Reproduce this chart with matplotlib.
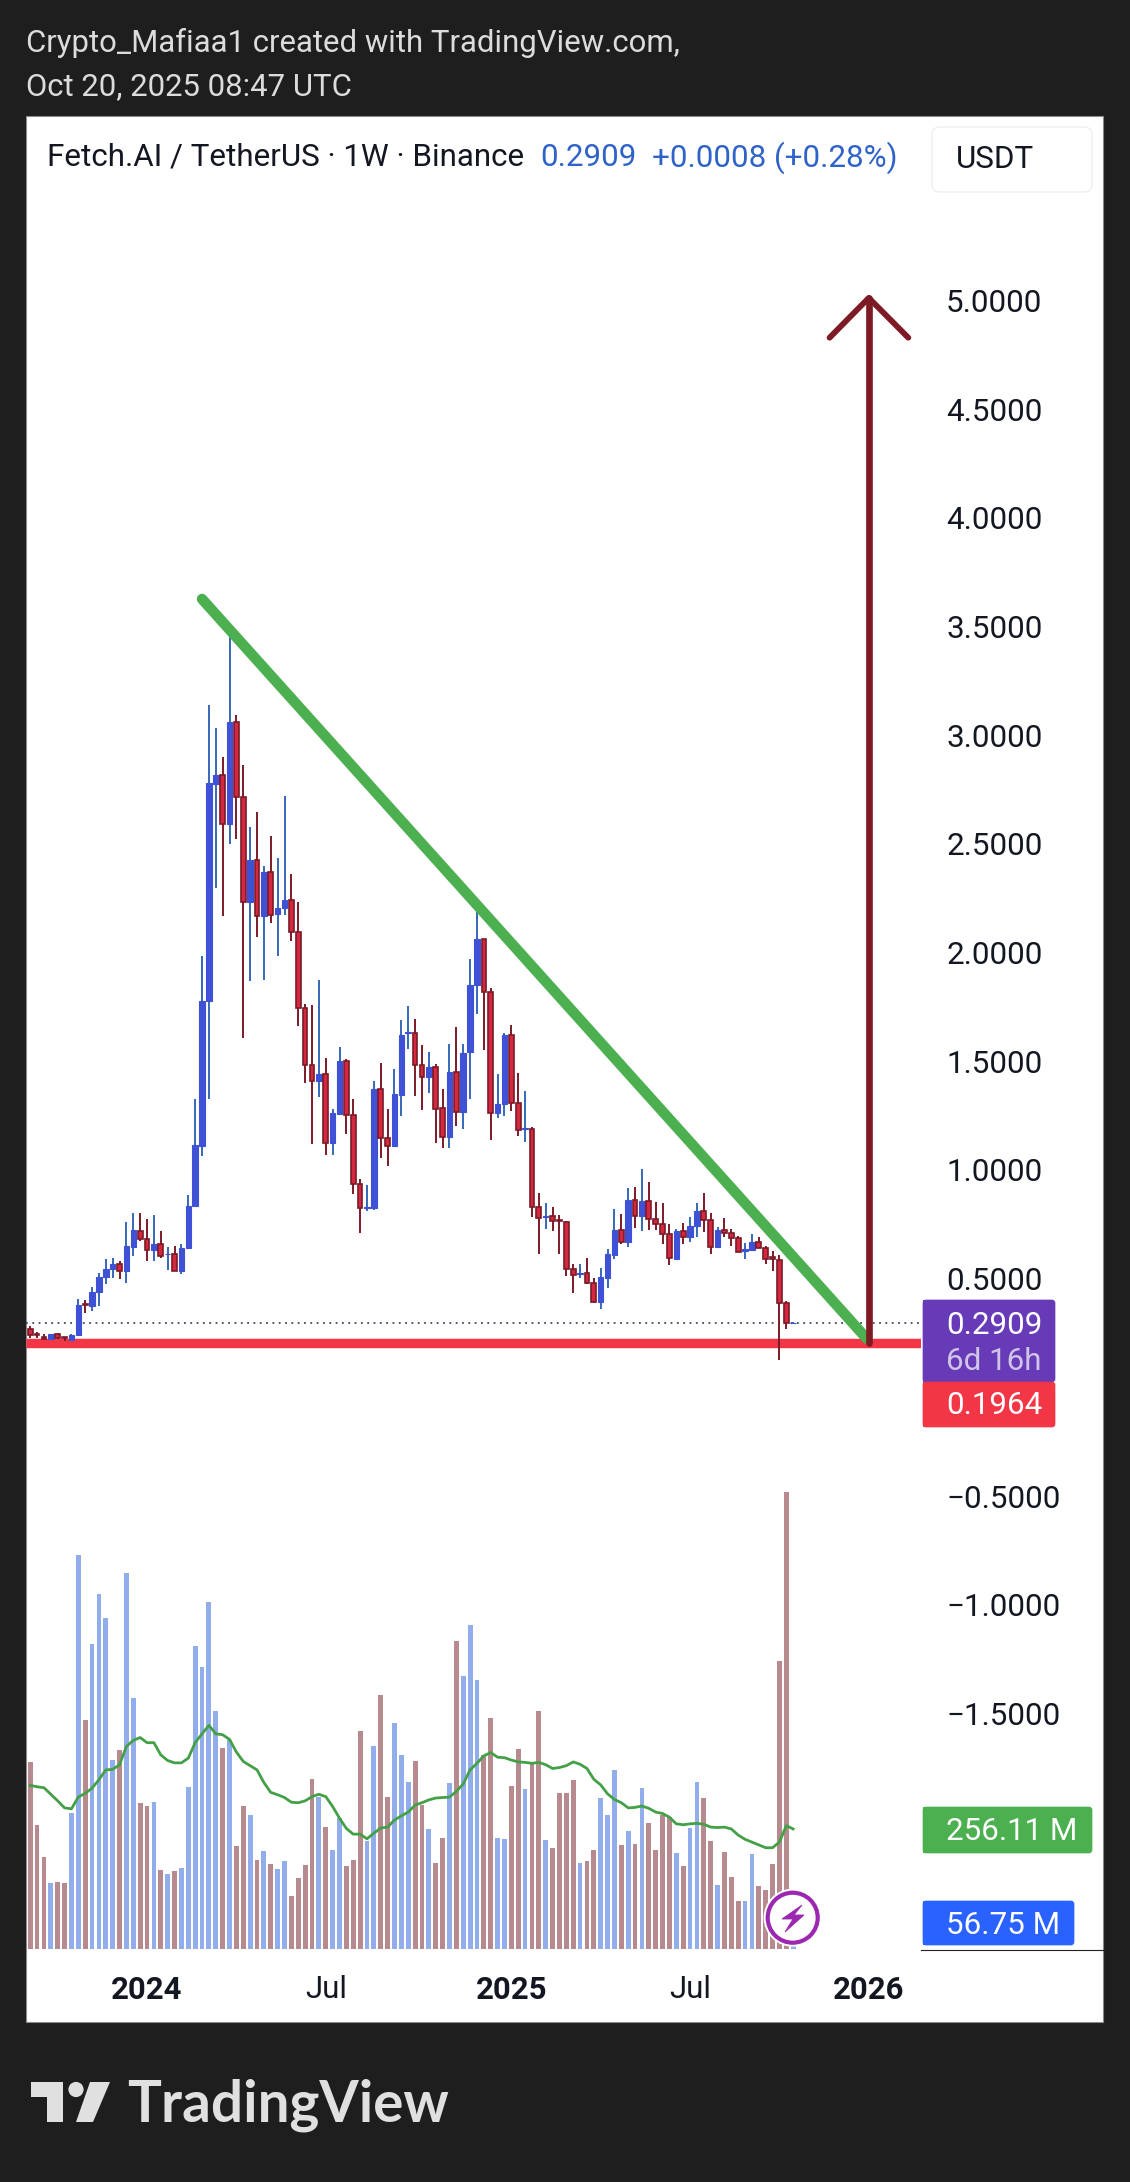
import matplotlib
matplotlib.use('Agg')
import matplotlib.pyplot as plt
from matplotlib.patches import Rectangle, Polygon, Circle, FancyBboxPatch
from matplotlib.transforms import ScaledTranslation
import numpy as np

plt.rcParams['font.family'] = ['Roboto', 'DejaVu Sans']

# weekly candles, FET/USDT
opens = [.264, .239, .227, .215, .241, .225, .210, .235, .377, .368, .432, .501, .540, .563, .529, .639,
         .715, .678, .627, .655, .606, .609, .529, .633, .828, 1.104, 1.771, 2.769, 2.812, 2.587, 3.052, 2.711,
         2.228, 2.421, 2.164, 2.366, 2.171, 2.201, 2.237, 2.090, 1.741, 1.477, 1.403, 1.437, 1.120, 1.250, 1.494, 1.248,
         .931, .817, .817, 1.368, 1.143, 1.103, 1.340, 1.626, 1.626, 1.478, 1.423, 1.469, 1.281, 1.147, 1.446, 1.260,
         1.538, 1.846, 2.058, 1.814, 1.258, 1.299, 1.613, 1.304, 1.184, 1.184, .823, .776, .782, .765, .754, .537,
         .514, .520, .474, .386, .497, .601, .719, .662, .857, .782, .853, .767, .745, .701, .586, .715,
         .685, .736, .805, .762, .639, .719, .706, .683, .621, .626, .662, .637, .592, .581, .384, .2901]
highs = [.276, .248, .238, .239, .246, .227, .239, .399, .396, .457, .522, .586, .591, .575, .756, .794,
         .798, .767, .785, .712, .638, .646, .655, .880, 1.318, 1.978, 3.131, 3.025, 2.892, 3.485, 3.085, 2.855,
         2.570, 2.638, 2.392, 2.529, 2.431, 2.713, 2.354, 2.226, 1.759, 1.751, 1.866, 1.507, 1.273, 1.561, 1.503, 1.322,
         .951, .926, 1.405, 1.484, 1.273, 1.457, 1.682, 1.747, 1.690, 1.567, 1.536, 1.483, 1.365, 1.572, 1.650, 1.575,
         1.966, 2.201, 2.058, 1.833, 1.434, 1.626, 1.659, 1.442, 1.356, 1.193, .890, .844, .825, .785, .759, .563,
         .560, .591, .495, .545, .629, .813, .793, .913, .917, .997, .940, .848, .840, .744, .721, .752,
         .779, .844, .890, .798, .731, .775, .721, .690, .656, .701, .687, .644, .621, .603, .393, .2960]
lows = [.223, .223, .215, .215, .215, .207, .207, .233, .334, .345, .368, .468, .495, .491, .472, .597,
        .666, .574, .574, .587, .532, .529, .514, .632, .828, 1.058, 1.319, 2.289, 2.162, 2.492, 2.515, 1.599,
        1.863, 2.065, 1.868, 2.130, 1.978, 2.167, 2.047, 1.656, 1.392, 1.112, 1.329, 1.063, 1.063, 1.247, 1.159, .882,
        .706, .805, .810, 1.047, 1.012, 1.099, 1.242, 1.549, 1.334, 1.270, 1.346, 1.118, 1.093, 1.093, 1.196, 1.182,
        1.322, 1.710, 1.544, 1.130, 1.235, 1.242, 1.265, 1.150, 1.122, .777, .609, .721, .713, .609, .506, .430,
        .499, .471, .384, .356, .451, .583, .652, .639, .725, .713, .718, .718, .655, .557, .583, .652,
        .662, .685, .708, .609, .637, .685, .644, .616, .586, .624, .633, .560, .529, .118, .262, .2880]
closes = [.236, .235, .218, .239, .219, .221, .235, .371, .373, .434, .503, .540, .563, .529, .643, .716,
          .675, .627, .655, .598, .609, .529, .637, .830, 1.107, 1.771, 2.772, 2.812, 2.587, 3.052, 2.711, 2.228,
          2.421, 2.164, 2.366, 2.168, 2.201, 2.237, 2.090, 1.741, 1.477, 1.403, 1.437, 1.120, 1.254, 1.494, 1.248, .931,
          .819, .823, 1.368, 1.143, 1.106, 1.342, 1.616, 1.630, 1.478, 1.423, 1.469, 1.276, 1.147, 1.446, 1.260, 1.534,
          1.846, 2.058, 1.812, 1.258, 1.299, 1.613, 1.304, 1.179, 1.189, .823, .775, .782, .759, .759, .537, .511,
          .520, .474, .386, .500, .606, .719, .662, .857, .782, .853, .767, .745, .701, .591, .715, .685,
          .738, .805, .762, .639, .719, .706, .683, .618, .629, .662, .637, .586, .586, .384, .2901, .2909]

volumes = [399, 265, 196, 140, 143, 141, 290, 841, 489, 651, 758, 706, 403, 425, 802, 536,
           312, 305, 314, 169, 160, 166, 173, 346, 647, 602, 740, 508, 429, 446, 220, 305,
           286, 190, 209, 181, 171, 188, 113, 152, 179, 363, 325, 260, 211, 279, 177, 190,
           465, 231, 433, 542, 324, 482, 414, 356, 401, 307, 256, 184, 237, 354, 657, 583,
           691, 574, 414, 493, 237, 235, 348, 427, 341, 396, 508, 233, 216, 333, 333, 361,
           184, 188, 211, 322, 286, 382, 222, 252, 224, 344, 269, 211, 286, 282, 205, 177,
           258, 356, 322, 230, 137, 207, 154, 102, 102, 203, 134, 126, 181, 615, 975, 56.75]
volume_ma = [349, 346, 344, 330, 316, 301, 299, 324, 332, 343, 361, 382, 383, 393, 432, 445,
             451, 440, 440, 414, 402, 397, 397, 407, 440, 459, 477, 459, 457, 447, 420, 400,
             391, 382, 355, 334, 329, 323, 313, 312, 316, 325, 330, 325, 304, 279, 257, 245,
             245, 235, 247, 258, 260, 275, 284, 292, 307, 312, 318, 322, 323, 324, 336, 352,
             382, 396, 412, 419, 409, 408, 403, 399, 398, 396, 398, 393, 385, 387, 391, 399,
             394, 385, 362, 350, 331, 319, 312, 301, 302, 305, 300, 292, 289, 281, 267, 265,
             267, 268, 266, 260, 259, 260, 256, 243, 234, 228, 222, 216, 216, 228, 263, 256.11]

price_ticks = [5.0, 4.5, 4.0, 3.5, 3.0, 2.5, 2.0, 1.5, 1.0, 0.5, -0.5, -1.0, -1.5]
time_ticks = [17, 43, 70, 96, 122]
time_labels = ['2024', 'Jul', '2025', 'Jul', '2026']

last_price = 0.2909
support = 0.1964
# drawings, (week index, price)
trend_line = [(25, 3.62), (121.7, 0.218)]
arrow_x = 122
arrow_tip = 5.005
arrow_base = 0.2
arrow_arm = [(116.3, 4.822), (127.75, 4.822)]

W, H = 1130, 2182
DARK = '#1e1e1e'
RED_BODY = '#d5283f'
RED_DARK = '#7b1a28'
BLUE_BODY = '#3f52d6'
BLUE_WICK = '#3568b8'
TXT = '#131722'
FS = 22.6

fig = plt.figure(figsize=(W / 100, H / 100), dpi=100, facecolor=DARK)

# background layer in pixel coords
bg = fig.add_axes([0, 0, 1, 1], zorder=0)
bg.set_xlim(0, W)
bg.set_ylim(H, 0)
bg.axis('off')
bg.add_patch(Rectangle((26, 116), 1077, 1906, fc='white', ec='#8a8a8a', lw=0.8))
bg.text(26, 43.5, 'Crypto_Mafiaa1 created with TradingView.com,', color='#dcdcdc', fontsize=22.45, va='center')
bg.text(26, 86.5, 'Oct 20, 2025 08:47 UTC', color='#dcdcdc', fontsize=22.45, va='center')

pane = [26 / W, 1 - 1950 / H, (921 - 26) / W, (1950 - 117) / H]
x_lim = (-0.61, 129.6)

# volume pane shares the same box as price
ax_vol = fig.add_axes(pane, zorder=1)
ax_vol.patch.set_visible(False)
ax_vol.set_xlim(*x_lim)
ax_vol.set_ylim(-2.1, 3907)
ax_vol.axis('off')

idx = np.arange(len(opens))
o, h, l, c = map(np.array, (opens, highs, lows, closes))
up = c >= o
vol = np.array(volumes)
ax_vol.bar(idx[up], vol[up], width=0.7, color='#92adeb')
ax_vol.bar(idx[~up], vol[~up], width=0.7, color='#b68a8e')
ax_vol.plot(idx, volume_ma, color='#43a047', lw=2)

ax = fig.add_axes(pane, zorder=2)
ax.patch.set_visible(False)
ax.set_xlim(*x_lim)
ax.set_ylim((1386 - 1950) / 217.4, (1386 - 117) / 217.4)
for s in ax.spines.values():
    s.set_visible(False)

ax.axhline(support, color='#f23645', lw=6.8, zorder=1, solid_capstyle='butt')
ax.axhline(last_price, color='#3f4a63', lw=1.3, ls=(0, (1, 2.5)), zorder=1)

ax.vlines(idx[up], l[up], h[up], color=BLUE_WICK, lw=1.4, zorder=2)
ax.vlines(idx[~up], l[~up], h[~up], color=RED_DARK, lw=1.4, zorder=2)
ax.bar(idx[up], (c - o)[up], bottom=o[up], width=0.8, color=BLUE_BODY, edgecolor=BLUE_BODY, lw=0.8, zorder=3)
ax.bar(idx[~up], (o - c)[~up], bottom=c[~up], width=0.68, color=RED_BODY, edgecolor=RED_DARK, lw=1.2, zorder=3)

ax.plot(*zip(*trend_line), color='#4caf50', lw=7.6, solid_capstyle='round', zorder=4)
ax.plot([arrow_x, arrow_x], [arrow_base, arrow_tip], color='#7d1a24', lw=4.8, solid_capstyle='round', zorder=5)
ax.plot([arrow_arm[0][0], arrow_x, arrow_arm[1][0]], [arrow_arm[0][1], arrow_tip, arrow_arm[1][1]],
        color='#7d1a24', lw=4.2, solid_capstyle='round', solid_joinstyle='round', zorder=5)

ax.set_yticks(price_ticks)
ax.set_yticklabels([f'{v:.4f}'.replace('-', '\u2212') for v in price_ticks])
ax.yaxis.tick_right()
ax.tick_params(axis='y', length=0, pad=18, labelsize=FS, labelcolor=TXT)
for lab in ax.get_yticklabels():
    lab.set_transform(lab.get_transform() + ScaledTranslation(0, -1.0 / 72, fig.dpi_scale_trans))
ax.set_xticks(time_ticks)
ax.set_xticklabels(time_labels)
ax.tick_params(axis='x', length=0, pad=18, labelsize=22.4, labelcolor=TXT)
for lab in ax.get_xticklabels():
    if lab.get_text() != 'Jul':
        lab.set_fontweight('bold')

# top layer: header strip, price badges, logo
top = fig.add_axes([0, 0, 1, 1], zorder=3)
top.patch.set_visible(False)
top.set_xlim(0, W)
top.set_ylim(H, 0)
top.axis('off')

top.text(47, 157.5, 'Fetch.AI / TetherUS \u00b7 1W \u00b7 Binance', color=TXT, fontsize=FS, va='center')
top.text(540, 157.5, '0.2909', color='#2f63c8', fontsize=FS, va='center')
top.text(652, 157.5, '+0.0008 (+0.28%)', color='#2f63c8', fontsize=FS, va='center')
top.add_patch(FancyBboxPatch((938, 133), 148, 53, boxstyle='round,pad=6,rounding_size=8', fc='white', ec='#eeeeee', lw=1))
top.text(956, 159, 'USDT', color=TXT, fontsize=FS, va='center')


def badge(y0, y1, x1, color):
    top.add_patch(FancyBboxPatch((923, y0), x1 - 923 - 1, y1 - y0, boxstyle='round,pad=0,rounding_size=3',
                                 fc=color, ec=color, lw=0.5, mutation_aspect=1))
    top.add_patch(Rectangle((923, y0), 8, y1 - y0, fc=color, ec=color, lw=0))


badge(1300, 1382, 1056, '#673ab7')
badge(1382, 1427, 1056, '#f23645')
badge(1807, 1853, 1093, '#4caf50')
badge(1901, 1945, 1075, '#2962ff')
top.text(946, 1325, '0.2909', color='white', fontsize=FS, va='center')
top.text(946, 1361, '6d 16h', color='#d1c4e9', fontsize=FS, va='center')
top.text(946, 1406, '0.1964', color='white', fontsize=FS, va='center')
top.text(946, 1831, '256.11 M', color='white', fontsize=FS, va='center')
top.text(946, 1925, '56.75 M', color='white', fontsize=FS, va='center')
top.plot([921, 1103], [1950, 1950], color='#222222', lw=0.8)

# lightning badge
top.add_patch(Circle((792.7, 1917.7), 29, fc='white', ec='none'))
top.add_patch(Circle((792.7, 1917.7), 25, fc='white', ec='#9c27b0', lw=3))
bolt = [(802, 1905), (782, 1919), (793, 1919), (785, 1932), (804, 1915), (794, 1915)]
top.add_patch(Polygon(bolt, closed=True, fc='#9c27b0', ec='#9c27b0', lw=0.6))

# logo
logo_c = '#e0e0e0'
top.add_patch(Polygon([(31, 2082), (63, 2082), (63, 2122), (47, 2122), (47, 2097), (31, 2097)], fc=logo_c, ec='none'))
top.add_patch(Circle((76, 2089.5), 7.6, fc=logo_c, ec='none'))
top.add_patch(Polygon([(90, 2082), (110, 2082), (93, 2122), (76, 2122)], fc=logo_c, ec='none'))
top.text(127, 2121, 'TradingView', color=logo_c, fontsize=40.8, fontweight='bold', family=['Lato', 'DejaVu Sans'], va='baseline')

fig.savefig('out.png', dpi=100, facecolor=DARK)
